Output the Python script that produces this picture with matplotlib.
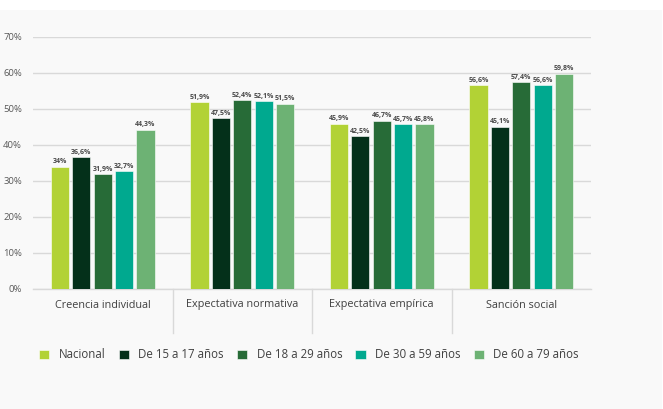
import numpy as np
import matplotlib
matplotlib.use("Agg")
import matplotlib.pyplot as plt

plt.rcParams['font.family'] = ['Open Sans', 'DejaVu Sans']

########################################################### DATA
categories = ['Creencia individual', 'Expectativa normativa', 'Expectativa empírica', 'Sanción social']
series_names = ['Nacional', 'De 15 a 17 años', 'De 18 a 29 años', 'De 30 a 59 años', 'De 60 a 79 años']
nacional = [34.0, 51.9, 45.9, 56.6]
de15a17 = [36.6, 47.5, 42.5, 45.1]
de18a29 = [31.9, 52.4, 46.7, 57.4]
de30a59 = [32.7, 52.1, 45.7, 56.6]
de60a79 = [44.3, 51.5, 45.8, 59.8]
yticks = [0, 10, 20, 30, 40, 50, 60, 70]
colors = ['#b2d235', '#04301a', '#276b37', '#00a98f', '#6db274']
###########################################################

W, H = 663, 409
fig = plt.figure(figsize=(W/100, H/100), dpi=100)
fig.patch.set_facecolor('white')
# grey panel under the white top strip
bg = fig.add_axes([0, 0, 662/W, (H-10)/H], zorder=-1)
bg.set_facecolor('#f9f9f9')
bg.set_xticks([])
bg.set_yticks([])
for s in bg.spines.values():
    s.set_visible(False)

ax = fig.add_axes([33/W, 120/H, (591-33)/W, 252/H], zorder=1)
ax.set_facecolor('none')

data = [nacional, de15a17, de18a29, de30a59, de60a79]
x = np.arange(len(categories))
pitch = 0.153
width = 0.13

def fmt(v):
    if v == int(v):
        return '%d%%' % v
    return ('%.1f%%' % v).replace('.', ',')

handles = []
for i in range(len(data)):
    xs = x + (i - 2) * pitch
    b = ax.bar(xs, data[i], width=width, color=colors[i], edgecolor='#ffffff',
               linewidth=0.4, zorder=3, label=series_names[i])
    handles.append(b)
    for xx, v in zip(xs, data[i]):
        ax.text(xx, v + 0.4, fmt(v), ha='center', va='bottom', fontsize=5,
                fontweight='bold', color='#4a4a4a', zorder=4)

ax.set_xlim(-0.5, len(categories) - 0.5)
ax.set_ylim(0, 70)
ax.set_yticks(yticks)
ax.set_yticklabels(['%d%%' % t for t in yticks], fontsize=6.8, color='#595959')
ax.tick_params(axis='y', length=0, pad=8)
ax.tick_params(axis='x', length=0)
ax.set_xticks([])
ax.grid(axis='y', color='#d9d9d9', linewidth=1.0, zorder=0)
for s in ['top', 'right', 'left']:
    ax.spines[s].set_visible(False)
ax.spines['bottom'].set_color('#d9d9d9')
ax.spines['bottom'].set_linewidth(1.0)

# category labels and separators
label_y = [306, 304, 304, 306]
for i, c in enumerate(categories):
    fig.text((33 + 139.5 * (i + 0.5)) / W, 1 - label_y[i] / H, c, ha='center', va='center',
             fontsize=7.8, color='#404040')
for i in range(1, len(categories)):
    xx = (33 + 139.5 * i) / W
    fig.add_artist(plt.Line2D([xx, xx], [1 - 289/H, 1 - 333/H], transform=fig.transFigure,
                              color='#d9d9d9', linewidth=1.0))

leg = fig.legend(handles=handles, labels=series_names, loc='center', bbox_to_anchor=(309/W, 1 - 355/H),
                 ncol=5, frameon=False, fontsize=8.3, handlelength=0.9, handleheight=0.9,
                 handletextpad=0.8, columnspacing=1.15)
for t in leg.get_texts():
    t.set_color('#404040')

plt.savefig('out.png', dpi=100, facecolor=fig.get_facecolor())
